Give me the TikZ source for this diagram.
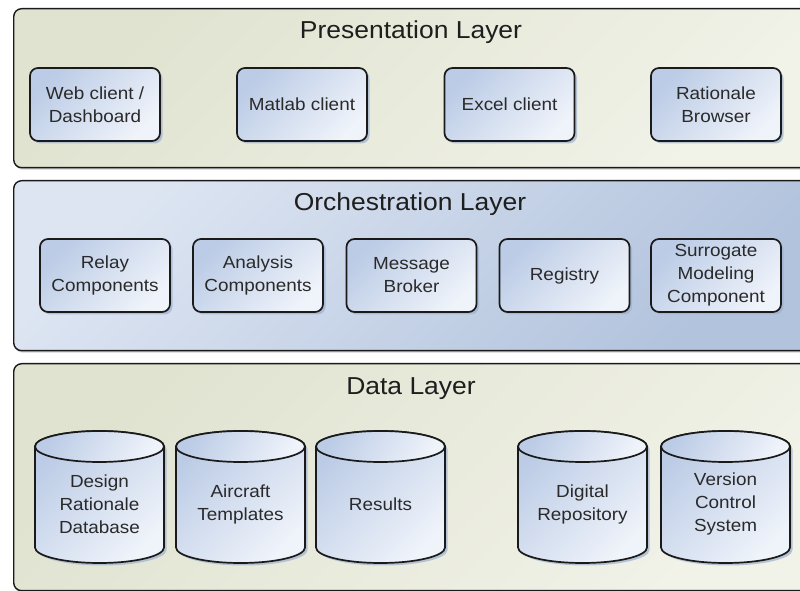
\documentclass[tikz,border=0pt]{standalone}
\usepackage{fontspec}
\setmainfont[FakeStretch=1.08]{Liberation Sans}
\usetikzlibrary{shadows}
\definecolor{beigeA}{HTML}{E0E3D0}
\definecolor{beigeB}{HTML}{F1F2E8}
\definecolor{orchA}{HTML}{DDE5F2}
\definecolor{orchB}{HTML}{B2C3DD}
\definecolor{boxA}{HTML}{BCCCE6}
\definecolor{boxB}{HTML}{EFF3FA}
\definecolor{shadowc}{HTML}{9DB0CE}
\definecolor{edgec}{HTML}{1A1A1A}
\definecolor{textc}{HTML}{2A2A2A}
\definecolor{titlec}{HTML}{1E1E1E}
\newcommand\dbcyl[3]{%
  \path[cylbody] (#1-64.5,144.5) -- (#1-64.5,43.5)
    arc[start angle=180,end angle=360,x radius=64.5,y radius=15.5]
    -- (#1+64.5,144.5)
    arc[start angle=0,end angle=180,x radius=64.5,y radius=15.5] -- cycle;
  \path[cyltop] (#1,144.5) ellipse[x radius=64.5,y radius=15.5];
  \node[dbtext] (#2) at (#1,87) {#3};
}
\begin{document}
\begin{tikzpicture}[x=1pt,y=1pt,
  layerbox/.style={draw=edgec, line width=1.4pt, rounded corners=8pt, anchor=north west,
    inner sep=0pt, minimum width=802pt,
    drop shadow={shadow xshift=1pt, shadow yshift=-2pt, fill=black!35, opacity=0.5}},
  beigelayer/.style={layerbox, top color=beigeA, bottom color=beigeB, shading angle=45},
  bluelayer/.style={layerbox, top color=orchA, bottom color=orchB, shading angle=45},
  title/.style={anchor=base, text=titlec, font=\fontsize{24.5}{28}\selectfont},
  comp/.style={draw=edgec, line width=1.7pt, rounded corners=8pt, minimum width=130pt,
    minimum height=73pt, align=center, text=textc, font=\fontsize{17.5}{23}\selectfont,
    top color=boxA, bottom color=boxB, shading angle=45,
    drop shadow={shadow xshift=2.5pt, shadow yshift=-2.5pt, fill=shadowc, opacity=0.7}},
  cylbody/.style={draw=edgec, line width=1.7pt, top color=boxA, bottom color=boxB, shading angle=45,
    drop shadow={shadow xshift=2.5pt, shadow yshift=-2.5pt, fill=shadowc, opacity=0.7}},
  cyltop/.style={draw=edgec, line width=1.7pt, top color=boxA, bottom color=boxB, shading angle=60},
  dbtext/.style={align=center, text=textc, font=\fontsize{17.5}{23}\selectfont}
]
\useasboundingbox (0,0) rectangle (800,591);
\fill[white] (0,0) rectangle (800,591);

% layers
\node[beigelayer, minimum height=159pt] (pres) at (13,583) {};
\node[bluelayer, minimum height=170pt] (orch) at (13,411) {};
\node[beigelayer, minimum height=227pt] (data) at (13,228) {};

\node[title] (prestitle) at (411,552) {Presentation Layer};
\node[title] (orchtitle) at (410,380) {Orchestration Layer};
\node[title] (datatitle) at (411,196) {Data Layer};

% presentation components
\node[comp] (web) at (95,486.5) {Web client /\\Dashboard};
\node[comp] (matlab) at (302,486.5) {Matlab client};
\node[comp] (excel) at (509.5,486.5) {Excel client};
\node[comp] (browser) at (716,486.5) {Rationale\\Browser};

% orchestration components
\node[comp] (relay) at (105,315.5) {Relay\\Components};
\node[comp] (analysis) at (258,315.5) {Analysis\\Components};
\node[comp] (broker) at (411.5,315.5) {Message\\Broker};
\node[comp] (registry) at (564.5,315.5) {Registry};
\node[comp] (surrogate) at (716,315.5) {Surrogate\\Modeling\\Component};

% data stores
\dbcyl{99.5}{design}{Design\\Rationale\\Database}
\dbcyl{240.5}{aircraft}{Aircraft\\Templates}
\dbcyl{380.5}{results}{Results}
\dbcyl{582.5}{digital}{Digital\\Repository}
\dbcyl{725.5}{version}{Version\\Control\\System}
\end{tikzpicture}
\end{document}
